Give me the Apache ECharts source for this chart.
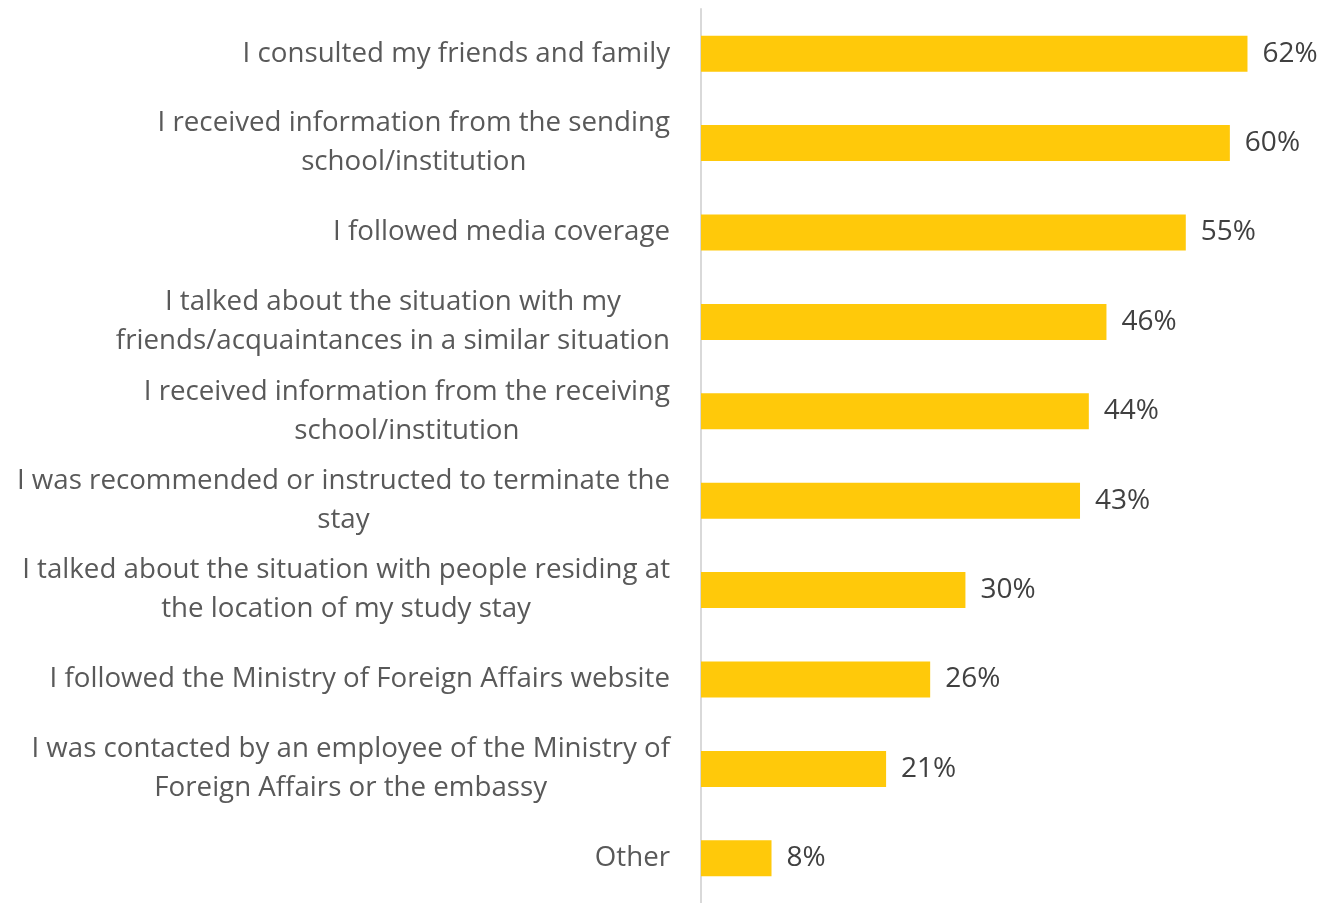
<!DOCTYPE html>
<html>
<head>
<meta charset="utf-8">
<script src="https://cdn.jsdelivr.net/npm/echarts@6/dist/echarts.min.js"></script>
<style>
html, body { margin: 0; padding: 0; background: #fff; }
#chart { width: 1323px; height: 903px; }
</style>
</head>
<body>
<div id="chart"></div>
<script>
// categories from top to bottom, line breaks as in the picture
var categories = [
    'I consulted my friends and family',
    'I received information from the sending\nschool/institution',
    'I followed media coverage',
    'I talked about the situation with my\nfriends/acquaintances in a similar situation',
    'I received information from the receiving\nschool/institution',
    'I was recommended or instructed to terminate the\nstay',
    'I talked about the situation with people residing at\nthe location of my study stay',
    'I followed the Ministry of Foreign Affairs website',
    'I was contacted by an employee of the Ministry of\nForeign Affairs or the embassy',
    'Other'
];
var values = [62, 60, 55, 46, 44, 43, 30, 26, 21, 8];

var myChart = echarts.init(document.getElementById('chart'));
var option = {
    animation: false,
    grid: {
        left: 701,
        top: 9,
        width: 617,
        height: 899,
        containLabel: false
    },
    xAxis: {
        type: 'value',
        min: 0,
        max: 70,
        show: false
    },
    yAxis: {
        type: 'category',
        inverse: true,
        data: categories,
        axisLine: { show: true, lineStyle: { color: '#d9d9d9', width: 2 } },
        axisTick: { show: false },
        axisLabel: {
            margin: 31,
            align: 'right',
            color: '#595959',
            fontFamily: 'Open Sans',
            fontSize: 27.7,
            lineHeight: 39,
            formatter: function (v) {
                return v.split('\n').map(function (l) { return '{c|' + l + '}'; }).join('\n');
            },
            rich: {
                c: { align: 'center', color: '#595959', fontFamily: 'Open Sans', fontSize: 27.7, lineHeight: 39 }
            }
        }
    },
    series: [{
        type: 'bar',
        data: values,
        barWidth: 36,
        itemStyle: { color: '#ffc90a' },
        label: {
            show: true,
            position: 'right',
            distance: 15,
            color: '#404040',
            fontFamily: 'Open Sans',
            fontSize: 28,
            formatter: '{c}%'
        }
    }]
};
myChart.setOption(option);
</script>
</body>
</html>
